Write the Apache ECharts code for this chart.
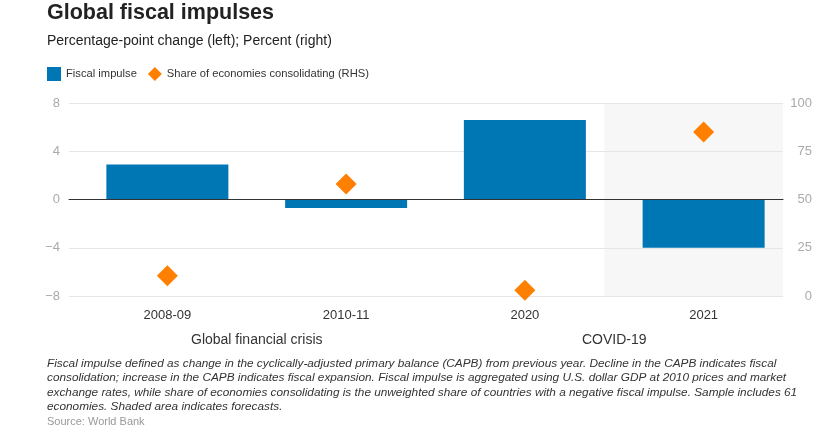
<!DOCTYPE html>
<html>
<head>
<meta charset="utf-8">
<script src="https://cdn.jsdelivr.net/npm/echarts@6/dist/echarts.min.js"></script>
<style>
html, body { margin: 0; padding: 0; background: #fff; }
#chart { width: 826px; height: 434px; }
</style>
</head>
<body>
<div id="chart"></div>
<script>
var categories = ['2008-09', '2010-11', '2020', '2021'];
var groups = ['Global financial crisis', 'COVID-19'];
var fiscalImpulse = [2.9, -0.7, 6.6, -4.0];
var shareConsolidating = [10.5, 58, 3, 85];
var forecastCategory = '2021';

var font = '"Liberation Sans", Arial, sans-serif';
var note = 'Fiscal impulse defined as change in the cyclically-adjusted primary balance (CAPB) from previous year. Decline in the CAPB indicates fiscal\n' +
    'consolidation; increase in the CAPB indicates fiscal expansion. Fiscal impulse is aggregated using U.S. dollar GDP at 2010 prices and market\n' +
    'exchange rates, while share of economies consolidating is the unweighted share of countries with a negative fiscal impulse. Sample includes 61\n' +
    'economies. Shaded area indicates forecasts.';

function minus(v) { return String(v).replace('-', '\u2212'); }

var option = {
    animation: false,
    textStyle: { fontFamily: font },
    title: [
        {
            text: 'Global fiscal impulses',
            left: 47, top: 2, padding: 0,
            textStyle: { fontFamily: font, fontSize: 21.5, fontWeight: 'bold', color: '#222' }
        },
        {
            text: 'Percentage-point change (left); Percent (right)',
            left: 47, top: 34, padding: 0,
            textStyle: { fontFamily: font, fontSize: 14, fontWeight: 'normal', color: '#222' }
        },
        {
            text: note,
            left: 47, top: 356, padding: 0,
            textStyle: { fontFamily: font, fontSize: 11.8, fontStyle: 'italic', fontWeight: 'normal', color: '#333', lineHeight: 14.5 }
        },
        {
            text: 'Source: World Bank',
            left: 47, top: 416, padding: 0,
            textStyle: { fontFamily: font, fontSize: 11, fontWeight: 'normal', color: '#999' }
        }
    ],
    legend: {
        left: 47, top: 67, padding: 0,
        itemWidth: 14, itemHeight: 14, itemGap: 11,
        textStyle: { fontFamily: font, fontSize: 11.2, color: '#333' },
        data: [
            { name: 'Fiscal impulse', icon: 'rect' },
            { name: 'Share of economies consolidating (RHS)', icon: 'diamond' }
        ]
    },
    grid: [
        { left: 69, right: 43, top: 103, bottom: 138 },
        { left: 78, right: 33, top: 103, bottom: 138 }
    ],
    xAxis: [
        {
            gridIndex: 0, type: 'category', data: categories, z: 5,
            axisLine: { onZero: true, lineStyle: { color: '#333', width: 1 } },
            axisTick: { show: false }, axisLabel: { show: false }
        },
        {
            gridIndex: 1, type: 'category', data: categories, position: 'bottom',
            axisLine: { show: false }, axisTick: { show: false },
            axisLabel: { margin: 13, fontSize: 13, color: '#333', fontFamily: font }
        },
        {
            gridIndex: 1, type: 'category', data: groups, position: 'bottom', offset: 24,
            axisLine: { show: false }, axisTick: { show: false },
            axisLabel: { margin: 13, fontSize: 14, color: '#333', fontFamily: font }
        }
    ],
    yAxis: [
        {
            gridIndex: 0, type: 'value', min: -8, max: 8, interval: 4, z: 2,
            axisLine: { show: false }, axisTick: { show: false },
            splitLine: { lineStyle: { color: '#e6e6e6', width: 1 } },
            axisLabel: { margin: 9, fontSize: 13, color: '#aaa', formatter: minus }
        },
        {
            gridIndex: 0, type: 'value', position: 'right', min: 0, max: 100, interval: 25, z: 2,
            axisLine: { show: false }, axisTick: { show: false }, splitLine: { show: false },
            axisLabel: { margin: 29, fontSize: 13, color: '#aaa', align: 'right' }
        },
        {
            gridIndex: 1, type: 'value', min: -8, max: 8, interval: 4, show: false
        },
        {
            gridIndex: 1, type: 'value', position: 'right', min: 0, max: 100, interval: 25, show: false
        }
    ],
    series: [
        {
            name: 'forecast',
            type: 'bar',
            xAxisIndex: 0, yAxisIndex: 0,
            data: [],
            silent: true,
            markArea: {
                silent: true,
                itemStyle: { color: '#f7f7f7' },
                data: [[{ xAxis: forecastCategory }, { xAxis: forecastCategory }]]
            },
            z: 0
        },
        {
            name: 'Fiscal impulse',
            type: 'bar',
            xAxisIndex: 1, yAxisIndex: 2,
            barWidth: 122,
            itemStyle: { color: '#0077b5' },
            data: fiscalImpulse,
            z: 3
        },
        {
            name: 'Share of economies consolidating (RHS)',
            type: 'scatter',
            xAxisIndex: 1, yAxisIndex: 3,
            symbol: 'diamond',
            symbolSize: 21,
            itemStyle: { color: '#ff7f00', opacity: 1 },
            data: shareConsolidating,
            z: 4
        }
    ]
};

echarts.init(document.getElementById('chart')).setOption(option, true);
</script>
</body>
</html>
